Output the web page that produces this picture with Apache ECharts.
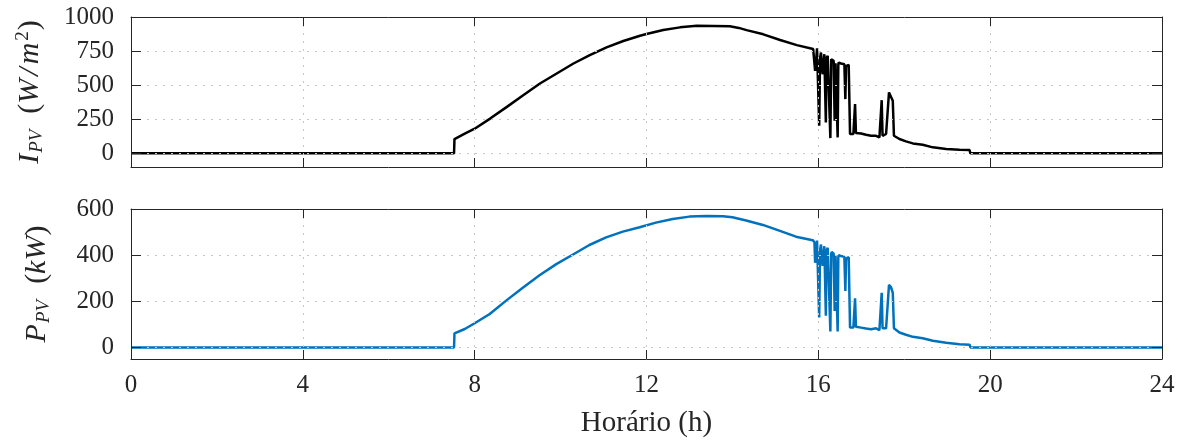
<!DOCTYPE html>
<html>
<head>
<meta charset="utf-8">
<script src="https://cdn.jsdelivr.net/npm/echarts@6/dist/echarts.min.js"></script>
<style>
html,body{margin:0;padding:0;background:#fff;}
#chart{width:1183px;height:443px;}
</style>
</head>
<body>
<div id="chart"></div>
<script>
// ---- data ----
const xTicks = [0, 4, 8, 12, 16, 20, 24];
const irrTicks = [0, 250, 500, 750, 1000];
const powTicks = [0, 200, 400, 600];

const hoursI = [0, 7.52, 7.53, 7.77, 8.0, 8.36, 8.75, 9.13, 9.52, 9.91, 10.30, 10.68, 11.07, 11.46, 11.85, 12.0, 12.39, 12.78, 13.17, 13.55, 13.94, 14.15, 14.33, 14.72, 15.11, 15.50, 15.88, 15.91, 15.925, 15.94, 15.97, 16.0, 16.02, 16.04, 16.062, 16.10, 16.14, 16.175, 16.19, 16.218, 16.256, 16.28, 16.30, 16.31, 16.357, 16.38, 16.40, 16.412, 16.45, 16.465, 16.474, 16.528, 16.606, 16.629, 16.645, 16.668, 16.707, 16.738, 16.816, 16.84, 16.855, 16.875, 16.90, 16.995, 17.11, 17.228, 17.344, 17.422, 17.46, 17.475, 17.495, 17.523, 17.577, 17.62, 17.645, 17.69, 17.733, 17.76, 17.888, 18.04, 18.2, 18.43, 18.665, 18.976, 19.287, 19.52, 19.54, 24];
const irradiance = [0, 0, 105, 145, 181, 255, 341, 426, 512, 586, 659, 720, 777, 824, 862, 875, 904, 924, 936, 934, 932, 920, 904, 873, 831, 794, 765, 756, 605, 640, 771, 760, 203, 700, 739, 580, 727, 227, 700, 715, 703, 112, 690, 703, 678, 239, 660, 666, 117, 650, 666, 659, 654, 398, 640, 642, 649, 142, 142, 145, 361, 150, 154, 146, 137, 129, 129, 117, 129, 390, 129, 129, 142, 137, 447, 434, 386, 129, 105, 88, 73, 63, 44, 32, 27, 24, 0, 0];

const hoursP = [0, 7.52, 7.53, 7.77, 8.0, 8.35, 8.74, 9.12, 9.51, 9.9, 10.29, 10.67, 11.06, 11.45, 11.84, 12.22, 12.61, 13.0, 13.39, 13.78, 14.0, 14.32, 14.71, 15.09, 15.48, 15.87, 15.91, 15.925, 15.94, 15.97, 16.0, 16.02, 16.04, 16.062, 16.10, 16.14, 16.175, 16.19, 16.218, 16.256, 16.28, 16.30, 16.31, 16.357, 16.38, 16.40, 16.412, 16.45, 16.465, 16.474, 16.528, 16.606, 16.629, 16.645, 16.668, 16.707, 16.738, 16.816, 16.84, 16.855, 16.875, 16.90, 16.995, 17.11, 17.228, 17.344, 17.422, 17.46, 17.475, 17.495, 17.523, 17.577, 17.62, 17.645, 17.69, 17.733, 17.76, 17.888, 18.04, 18.2, 18.43, 18.665, 18.976, 19.287, 19.52, 19.54, 24];
const power = [0, 0, 61, 80, 105, 145, 204, 259, 313, 361, 403, 444, 477, 502, 521, 541, 557, 567, 570, 569, 564, 550, 531, 506, 480, 465, 456, 367, 390, 463, 455, 130, 420, 446, 353, 439, 137, 420, 432, 429, 69, 405, 414, 406, 158, 400, 403, 69, 390, 400, 396, 393, 245, 385, 389, 391, 86, 86, 88, 213, 90, 89, 86, 82, 79, 83, 75, 83, 237, 83, 83, 83, 83, 271, 262, 237, 83, 65, 55, 46, 40, 29, 20, 14, 12, 0, 0];

// ---- chart ----
const FONT = 'Liberation Serif';
const AX = '#262626';
const gridLine = {show: true, lineStyle: {color: '#c8c8c8', width: 1, type: [2, 6]}};
const chart = echarts.init(document.getElementById('chart'), null, {renderer: 'canvas'});
const plain = v => String(v);

function xAx(grid, pos, labels, split, extra) {
  return Object.assign({
    type: 'value', gridIndex: grid, position: pos, min: 0, max: 24, interval: 4, z: 3,
    axisLine: {show: true, onZero: false, lineStyle: {color: AX, width: 1}},
    axisTick: {show: true, inside: true, length: 9, lineStyle: {color: AX}},
    axisLabel: {show: labels, color: AX, fontFamily: FONT, fontSize: 25, margin: 14, formatter: plain},
    splitLine: split ? gridLine : {show: false}
  }, extra || {});
}
function yAx(grid, pos, min, max, ticks, labels, split, extra) {
  return Object.assign({
    type: 'value', gridIndex: grid, position: pos, min: min, max: max, z: 3,
    axisLine: {show: true, onZero: false, lineStyle: {color: AX, width: 1}},
    axisTick: {show: true, inside: true, length: 10, customValues: ticks, lineStyle: {color: AX}},
    axisLabel: {show: labels, color: AX, fontFamily: FONT, fontSize: 25, margin: 17, customValues: ticks, formatter: plain},
    splitLine: split ? gridLine : {show: false}
  }, extra || {});
}

const nameRich = {
  i: {fontFamily: FONT, fontStyle: 'italic', fontSize: 30, color: AX},
  sl: {fontFamily: FONT, fontStyle: 'italic', fontSize: 30, color: AX, padding: [0, 3, 0, 3]},
  r: {fontFamily: FONT, fontSize: 30, color: AX},
  rp: {fontFamily: FONT, fontSize: 30, color: AX, padding: [0, 0, 0, 16]},
  sub: {fontFamily: FONT, fontStyle: 'italic', fontSize: 19, color: AX, verticalAlign: 'bottom', padding: [13, 0, 0, 1]},
  sup: {fontFamily: FONT, fontSize: 19, color: AX, verticalAlign: 'top', padding: [0, 1, 13, 2]}
};

chart.setOption({
  animation: false,
  backgroundColor: '#fff',
  grid: [
    {left: 131, right: 21, top: 17, height: 150},
    {left: 131, right: 21, top: 209, height: 150}
  ],
  xAxis: [
    xAx(0, 'bottom', false, true),
    xAx(0, 'top', false, false),
    xAx(1, 'bottom', true, true, {
      name: 'Horário (h)', nameLocation: 'middle', nameGap: 50,
      nameTextStyle: {fontFamily: FONT, fontSize: 29, color: AX}
    }),
    xAx(1, 'top', false, false)
  ],
  yAxis: [
    yAx(0, 'left', -100, 1000, irrTicks, true, true, {
      name: '{i|I}{sub|PV}{rp|(}{i|W}{sl|/}{i|m}{sup|2}{r|)}',
      nameLocation: 'middle', nameGap: 85, nameRotate: 90,
      nameTextStyle: {rich: nameRich}
    }),
    yAx(0, 'right', -100, 1000, irrTicks, false, false),
    yAx(1, 'left', -50, 600, powTicks, true, true, {
      name: '{i|P}{sub|PV}{rp|(}{i|kW}{r|)}',
      nameLocation: 'middle', nameGap: 78, nameRotate: 90,
      nameTextStyle: {rich: nameRich}
    }),
    yAx(1, 'right', -50, 600, powTicks, false, false)
  ],
  series: [
    {
      type: 'line', xAxisIndex: 0, yAxisIndex: 0, showSymbol: false, z: 2,
      lineStyle: {color: '#000000', width: 2.5},
      data: hoursI.map((h, i) => [h, irradiance[i]])
    },
    {
      type: 'line', xAxisIndex: 2, yAxisIndex: 2, showSymbol: false, z: 2,
      lineStyle: {color: '#0072BD', width: 2.5},
      data: hoursP.map((h, i) => [h, power[i]])
    }
  ]
});
</script>
</body>
</html>
